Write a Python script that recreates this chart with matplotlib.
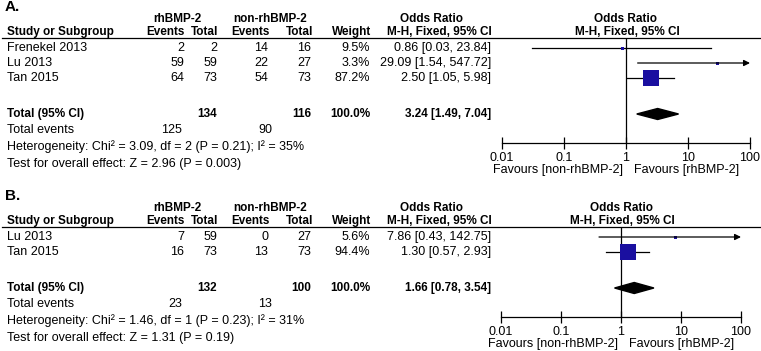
import matplotlib
matplotlib.use("Agg")
import matplotlib.pyplot as plt
from matplotlib.patches import Polygon

plt.rcParams['font.family'] = ['Liberation Sans', 'DejaVu Sans']

W, H = 761, 351

# ---- panel A data ----
a_study = ["Frenekel 2013", "Lu 2013", "Tan 2015"]
a_ev1 = [2, 59, 64]
a_tot1 = [2, 59, 73]
a_ev2 = [14, 22, 54]
a_tot2 = [16, 27, 73]
a_weight = [9.5, 3.3, 87.2]
a_or = [0.86, 29.09, 2.50]
a_lo = [0.03, 1.54, 1.05]
a_hi = [23.84, 547.72, 5.98]
a_sum_n = [134, 116]
a_sum_ev = [125, 90]
a_sum_or = [3.24, 1.49, 7.04]
a_het = "Heterogeneity: Chi\u00b2 = 3.09, df = 2 (P = 0.21); I\u00b2 = 35%"
a_test = "Test for overall effect: Z = 2.96 (P = 0.003)"

# ---- panel B data ----
b_study = ["Lu 2013", "Tan 2015"]
b_ev1 = [7, 16]
b_tot1 = [59, 73]
b_ev2 = [0, 13]
b_tot2 = [27, 73]
b_weight = [5.6, 94.4]
b_or = [7.86, 1.30]
b_lo = [0.43, 0.57]
b_hi = [142.75, 2.93]
b_sum_n = [132, 100]
b_sum_ev = [23, 13]
b_sum_or = [1.66, 0.78, 3.54]
b_het = "Heterogeneity: Chi\u00b2 = 1.46, df = 1 (P = 0.23); I\u00b2 = 31%"
b_test = "Test for overall effect: Z = 1.31 (P = 0.19)"

tick_vals = [0.01, 0.1, 1, 10, 100]
tick_lbls = ["0.01", "0.1", "1", "10", "100"]
fav_left = "Favours [non-rhBMP-2]"
fav_right = "Favours [rhBMP-2]"

BLUE = '#1a0fa0'
FS = 9
FSB = 8.5

fig = plt.figure(figsize=(W / 100, H / 100), dpi=100)
tax = fig.add_axes([0, 0, 1, 1])
tax.set_xlim(0, W)
tax.set_ylim(H, 0)
tax.axis('off')


def txt(x, y, s, ha='left', bold=False, size=None):
    if size is None:
        size = FSB if bold else FS
    tax.text(x, y, s, ha=ha, va='center', fontsize=size,
             fontweight='bold' if bold else 'normal', color='black')


def panel(label, y0, study, ev1, tot1, ev2, tot2, weight, orr, lo, hi,
          sum_n, sum_ev, sum_or, het, test, ax_l, ax_r):
    # column positions (right edges)
    c_ev1, c_tot1, c_ev2, c_tot2, c_w, c_or = 184, 217, 268, 311, 370, 491
    txt(5, y0, label, bold=True, size=11)
    y1 = y0 + 12
    txt(177, y1, "rhBMP-2", ha='center', bold=True)
    txt(270, y1, "non-rhBMP-2", ha='center', bold=True)
    txt(432, y1, "Odds Ratio", ha='center', bold=True)
    y2 = y0 + 25
    txt(7, y2, "Study or Subgroup", bold=True)
    txt(185, y2, "Events", ha='right', bold=True)
    txt(218, y2, "Total", ha='right', bold=True)
    txt(270, y2, "Events", ha='right', bold=True)
    txt(313, y2, "Total", ha='right', bold=True)
    txt(371, y2, "Weight", ha='right', bold=True)
    txt(439, y2, "M-H, Fixed, 95% CI", ha='center', bold=True)
    cx = (ax_l + ax_r) / 2
    txt(cx, y1, "Odds Ratio", ha='center', bold=True)
    txt(cx + 1, y2, "M-H, Fixed, 95% CI", ha='center', bold=True)
    yl = y0 + 31
    tax.plot([2, W], [yl, yl], color='black', lw=0.9)

    rows = [y0 + 41 + 15 * i for i in range(len(study))]
    for i, y in enumerate(rows):
        txt(7, y, study[i])
        txt(c_ev1, y, str(ev1[i]), ha='right')
        txt(c_tot1, y, str(tot1[i]), ha='right')
        txt(c_ev2, y, str(ev2[i]), ha='right')
        txt(c_tot2, y, str(tot2[i]), ha='right')
        txt(c_w, y, f"{weight[i]:.1f}%", ha='right')
        txt(c_or, y, f"{orr[i]:.2f} [{lo[i]:.2f}, {hi[i]:.2f}]", ha='right')

    yt = rows[-1] + 36
    txt(7, yt, "Total (95% CI)", bold=True)
    txt(c_tot1, yt, str(sum_n[0]), ha='right', bold=True)
    txt(c_tot2, yt, str(sum_n[1]), ha='right', bold=True)
    txt(c_w, yt, "100.0%", ha='right', bold=True)
    txt(c_or, yt, f"{sum_or[0]:.2f} [{sum_or[1]:.2f}, {sum_or[2]:.2f}]",
        ha='right', bold=True)
    ye = yt + 16
    txt(7, ye, "Total events")
    txt(182, ye, str(sum_ev[0]), ha='right')
    txt(272, ye, str(sum_ev[1]), ha='right')
    txt(7, ye + 17, het)
    txt(7, ye + 34, test)

    # forest axes
    y_axis = yt + 29
    ax = fig.add_axes([ax_l / W, 1 - y_axis / H, (ax_r - ax_l) / W,
                       (y_axis - yl) / H])
    ax.set_xscale('log')
    ax.set_xlim(0.01, 100)
    ax.set_ylim(y_axis, yl)
    ax.patch.set_alpha(0)
    for s in ['top', 'left', 'right']:
        ax.spines[s].set_visible(False)
    ax.spines['bottom'].set_linewidth(0.9)
    ax.set_yticks([])
    ax.set_xticks(tick_vals)
    ax.set_xticklabels(tick_lbls)
    ax.minorticks_off()
    ax.tick_params(axis='x', direction='inout', length=9, width=0.9,
                   labelsize=FS, pad=2)
    ax.axvline(1, color='black', lw=0.9)
    for i, y in enumerate(rows):
        if hi[i] > 100:
            ax.annotate('', xy=(100, y), xytext=(lo[i], y),
                        arrowprops=dict(arrowstyle='-|>', mutation_scale=9,
                                        lw=0.9, color='black',
                                        shrinkA=0, shrinkB=0))
        else:
            ax.plot([lo[i], hi[i]], [y, y], color='black', lw=0.9)
        side = max(3.0, 18 * weight[i] / 100)
        ax.plot(orr[i], y, marker='s', ms=side * 0.72, color=BLUE,
                mec=BLUE, mew=0)
    est, l, h = sum_or
    ax.add_patch(Polygon([(l, yt), (est, yt - 5.5), (h, yt), (est, yt + 5.5)],
                         closed=True, color='black'))
    txt(cx - 3, y_axis + 27, fav_left, ha='right')
    txt(cx + 8, y_axis + 27, fav_right, ha='left')


panel("A.", 7, a_study, a_ev1, a_tot1, a_ev2, a_tot2, a_weight, a_or, a_lo,
      a_hi, a_sum_n, a_sum_ev, a_sum_or, a_het, a_test, 502, 750)
panel("B.", 196, b_study, b_ev1, b_tot1, b_ev2, b_tot2, b_weight, b_or, b_lo,
      b_hi, b_sum_n, b_sum_ev, b_sum_or, b_het, b_test, 501, 741)

fig.savefig("out.png", dpi=100)
